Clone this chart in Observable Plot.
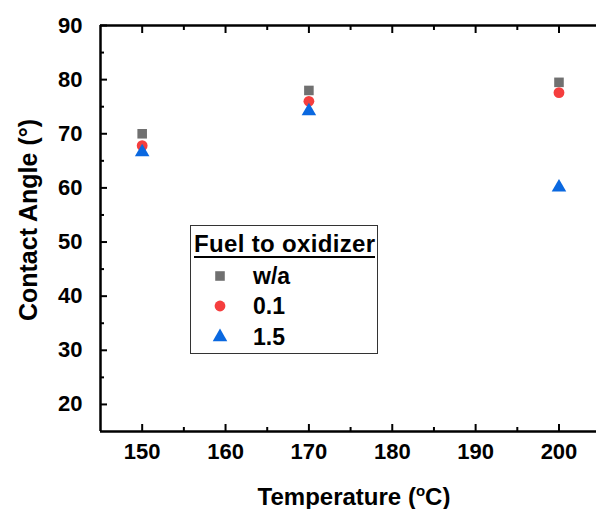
<!DOCTYPE html>
<html><head><meta charset="utf-8">
<script src="https://cdn.jsdelivr.net/npm/d3@7"></script>
<script src="https://cdn.jsdelivr.net/npm/@observablehq/plot@0.6"></script>
<style>
body{margin:0;background:#fff}
#chart{position:relative;width:596px;height:509px}
</style>
</head><body><div id="chart"></div>
<script>
const temperatures = [150, 170, 200];
const seriesNames = ["w/a", "0.1", "1.5"];
const waValues = [70.0, 78.0, 79.5];
const ratio01Values = [67.8, 76.0, 77.6];
const ratio15Values = [66.6, 74.2, 60.1];
const seriesSymbols = ["square", "circle", "triangle"];
const seriesColors = ["#707070", "#f53e3e", "#0a68e0"];
const xTicks = [150, 160, 170, 180, 190, 200];
const xMinorTicks = [155, 165, 175, 185, 195];
const yTicks = [20, 30, 40, 50, 60, 70, 80, 90];
const yMinorTicks = [25, 35, 45, 55, 65, 75, 85];
const xLabel = ["Temperature (", "o", "C)"];
const yLabel = "Contact Angle (°)";
const legendTitle = "Fuel to oxidizer";

const seriesValues = [waValues, ratio01Values, ratio15Values];
const data = seriesNames.flatMap((s, j) => temperatures.map((t, i) => ({series: s, temperature: t, angle: seriesValues[j][i]})));

const font = "'Liberation Sans', Arial, sans-serif";
const axisStyle = {strokeWidth: 2, fontSize: 22, fontWeight: "bold", label: null};

const chart = Plot.plot({
  width: 596, height: 509,
  marginLeft: 100, marginRight: 0, marginTop: 25, marginBottom: 78,
  style: {fontFamily: font, fontWeight: "bold", color: "black", background: "white", overflow: "visible"},
  x: {domain: [145, 204.5]},
  y: {domain: [15, 90]},
  symbol: {domain: seriesNames, range: seriesSymbols},
  color: {domain: seriesNames, range: seriesColors},
  marks: [
    Plot.axisX({...axisStyle, anchor: "bottom", ticks: xTicks, tickSize: -7, tickPadding: 19}),
    Plot.axisX({...axisStyle, anchor: "bottom", ticks: xMinorTicks, tickSize: -4, fill: "none"}),
    Plot.axisX({...axisStyle, anchor: "top", ticks: xTicks, tickSize: -7, fill: "none"}),
    Plot.axisX({...axisStyle, anchor: "top", ticks: xMinorTicks, tickSize: -4, fill: "none"}),
    Plot.axisY({...axisStyle, anchor: "left", ticks: yTicks, tickSize: -7, tickPadding: 25}),
    Plot.axisY({...axisStyle, anchor: "left", ticks: yMinorTicks, tickSize: -4, fill: "none"}),
    Plot.ruleY([15, 90], {strokeWidth: 2.5}),
    Plot.ruleX([145], {strokeWidth: 2.5}),
    Plot.dot(data, {x: "temperature", y: "angle", symbol: "series", fill: "series", r: 5.4})
  ]
});
document.getElementById("chart").appendChild(chart);

const svg = d3.select(chart);
// axis titles
const xt = svg.append("text").attr("x", 354).attr("y", 505).attr("text-anchor", "middle")
  .style("font-family", font).style("font-weight", "bold").style("font-size", "24px").attr("fill", "black");
xt.append("tspan").text(xLabel[0]);
xt.append("tspan").text(xLabel[1]).attr("dy", -9).style("font-size", "15px");
xt.append("tspan").text(xLabel[2]).attr("dy", 9);

svg.append("text").attr("transform", "translate(37,220) rotate(-90)").attr("text-anchor", "middle")
  .style("font-family", font).style("font-weight", "bold").style("font-size", "25px").attr("fill", "black")
  .text(yLabel);

// legend
const lg = svg.append("g").style("font-family", font).style("font-weight", "bold").attr("text-anchor", "start");
lg.append("rect").attr("x", 190.5).attr("y", 225.5).attr("width", 187).attr("height", 128)
  .attr("fill", "white").attr("stroke", "#333").attr("stroke-width", 1);
lg.append("text").attr("x", 194).attr("y", 252).attr("textLength", 181).style("font-size", "24px").attr("fill", "black").text(legendTitle);
lg.append("line").attr("x1", 194).attr("x2", 375).attr("y1", 257).attr("y2", 257).attr("stroke", "black").attr("stroke-width", 2);
const symMap = {square: d3.symbolSquare, circle: d3.symbolCircle, triangle: d3.symbolTriangle};
const rowY = [276, 306, 337];
seriesNames.forEach((s, i) => {
  lg.append("path").attr("d", d3.symbol(symMap[seriesSymbols[i]], Math.PI * 5.4 * 5.4)())
    .attr("transform", `translate(220,${rowY[i]})`).attr("fill", seriesColors[i]);
  lg.append("text").attr("x", 253).attr("y", rowY[i] + 8).style("font-size", "23px").attr("fill", "black").text(s);
});
</script>
</body></html>
